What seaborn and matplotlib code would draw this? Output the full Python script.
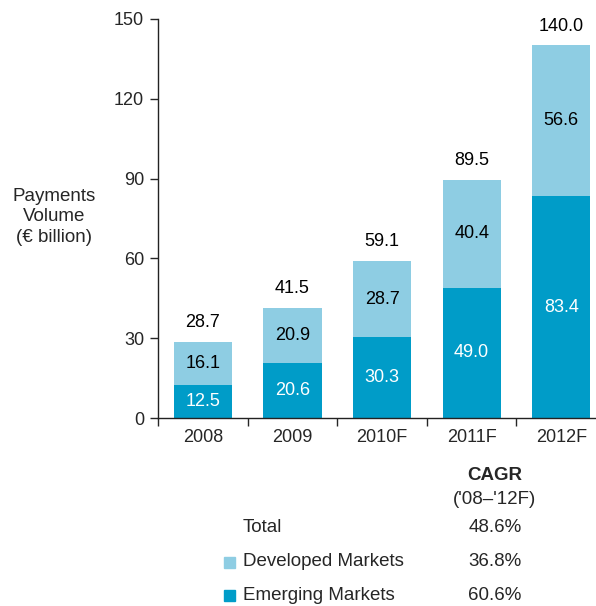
import numpy as np
import pandas as pd
import matplotlib
matplotlib.use('Agg')
import matplotlib.pyplot as plt
import seaborn as sns

years = ['2008', '2009', '2010F', '2011F', '2012F']
emerging = [12.5, 20.6, 30.3, 49.0, 83.4]
developed = [16.1, 20.9, 28.7, 40.4, 56.6]
totals = [28.7, 41.5, 59.1, 89.5, 140.0]
cagr_labels = ['Total', 'Developed Markets', 'Emerging Markets']
cagr_values = ['48.6%', '36.8%', '60.6%']

light = '#8ecde3'
dark = '#009cc8'

sns.set_style('white')
plt.rcParams['font.family'] = ['Liberation Sans', 'DejaVu Sans']

df = pd.DataFrame({'year': years, 'emerging': emerging,
                   'developed': developed, 'total': totals})

fig = plt.figure(figsize=(5.96, 6.06), dpi=100)
ax = fig.add_axes([0.265, 0.310, 0.752, 0.659])

sns.barplot(data=df, x='year', y='total', color=light, width=0.65,
            saturation=1, linewidth=0, ax=ax)
sns.barplot(data=df, x='year', y='emerging', color=dark, width=0.65,
            saturation=1, linewidth=0, ax=ax)

for i in range(len(years)):
    e = emerging[i]
    d = developed[i]
    ax.text(i, e / 2, f'{e:.1f}', ha='center', va='center', color='white', fontsize=13)
    ax.text(i, e + d / 2, f'{d:.1f}', ha='center', va='center', color='black', fontsize=13)
    ax.text(i, totals[i] + 4, f'{totals[i]:.1f}', ha='center', va='bottom', color='black', fontsize=13)

ax.set_ylim(0, 150)
ax.set_xlim(-0.5, 4.5)
ax.set_yticks([0, 30, 60, 90, 120, 150])
ax.set_xlabel('')
ax.set_ylabel('')
ax.set_xticks(np.arange(-0.5, 5, 1), minor=True)
ax.tick_params(axis='x', which='major', length=0, labelsize=13, pad=8)
ax.tick_params(axis='x', which='minor', length=6, width=1, direction='out', bottom=True)
ax.tick_params(axis='y', length=6, width=1, direction='out', left=True, labelsize=13, pad=4)
sns.despine(ax=ax)
for s in ['left', 'bottom']:
    ax.spines[s].set_linewidth(1)
    ax.spines[s].set_color('#222222')

fig.text(54 / 596, 1 - 217 / 606, 'Payments\nVolume\n(€ billion)', ha='center', va='center',
         fontsize=13.5, linespacing=1.3)

# CAGR table
fig.text(495 / 596, 1 - 475 / 606, 'CAGR', ha='center', va='center', fontsize=13.5, fontweight='bold')
fig.text(495 / 596, 1 - 500 / 606, "('08–'12F)", ha='center', va='center', fontsize=13.5)
rows_y = [528, 562, 595]
swatch = [None, light, dark]
for lab, val, yy, col in zip(cagr_labels, cagr_values, rows_y, swatch):
    fig.text(243 / 596, 1 - yy / 606, lab, ha='left', va='center', fontsize=13.5)
    fig.text(495 / 596, 1 - yy / 606, val, ha='center', va='center', fontsize=13.5)
    if col is not None:
        fig.patches.append(plt.Rectangle((224 / 596, 1 - (yy + 6) / 606), 11 / 596, 11 / 606,
                                         transform=fig.transFigure, color=col, figure=fig))

fig.savefig('out.png', dpi=100)
